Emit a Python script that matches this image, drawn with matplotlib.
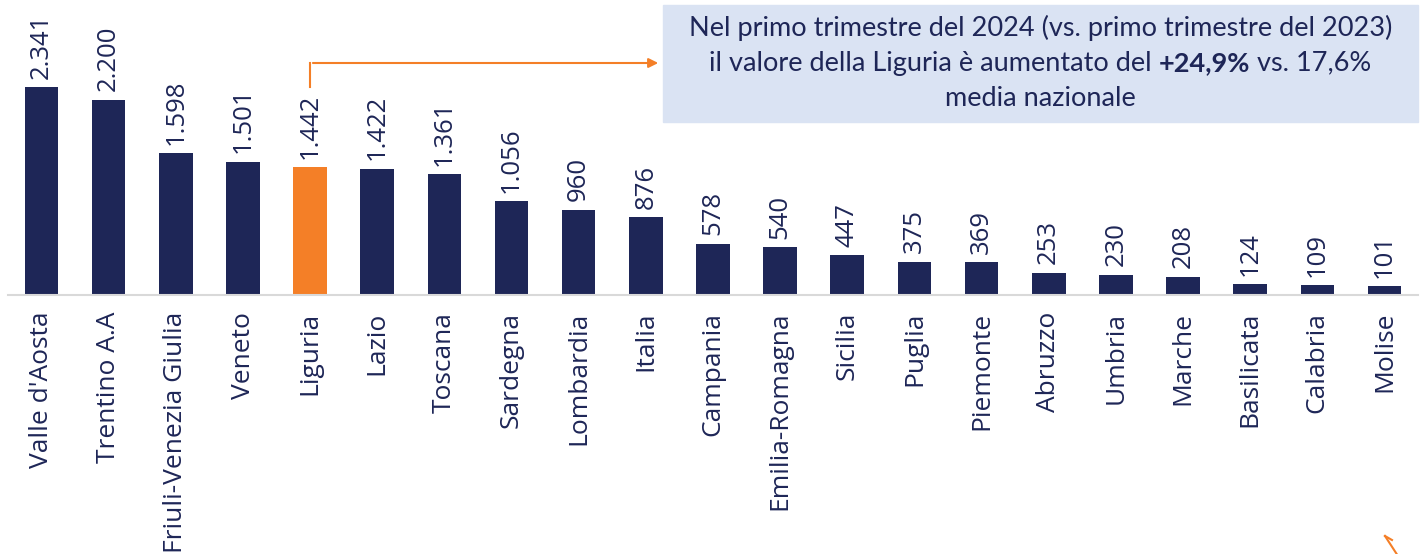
import matplotlib.pyplot as plt
from matplotlib.patches import Rectangle, FancyArrowPatch
from matplotlib.lines import Line2D

regioni = ["Valle d'Aosta", "Trentino A.A", "Friuli-Venezia Giulia", "Veneto", "Liguria",
           "Lazio", "Toscana", "Sardegna", "Lombardia", "Italia", "Campania",
           "Emilia-Romagna", "Sicilia", "Puglia", "Piemonte", "Abruzzo", "Umbria",
           "Marche", "Basilicata", "Calabria", "Molise"]
valori = [2341, 2200, 1598, 1501, 1442, 1422, 1361, 1056, 960, 876, 578,
          540, 447, 375, 369, 253, 230, 208, 124, 109, 101]
etichette = ["2.341", "2.200", "1.598", "1.501", "1.442", "1.422", "1.361", "1.056",
             "960", "876", "578", "540", "447", "375", "369", "253", "230", "208",
             "124", "109", "101"]
evidenza = "Liguria"

NAVY = "#1E2657"
ORANGE = "#F47F27"
BOX = "#DAE3F3"

plt.rcParams['font.family'] = ['Open Sans', 'DejaVu Sans']

W, H = 1427, 554
fig = plt.figure(figsize=(W / 100, H / 100), dpi=100)
ax = fig.add_axes([8 / W, 259 / H, 1410 / W, 295 / H])

colori = [ORANGE if r == evidenza else NAVY for r in regioni]
x = list(range(len(regioni)))
ax.bar(x, valori, width=0.5, color=colori)
ax.set_xlim(-0.5, len(regioni) - 0.5)
ax.set_ylim(0, 3320)

for xi, v, lab in zip(x, valori, etichette):
    ax.annotate(lab, (xi, v), xytext=(0, 6), textcoords="offset points",
                rotation=90, ha="center", va="bottom", fontsize=18.5, color=NAVY)

ax.set_xticks(x)
ax.set_xticklabels(regioni, rotation=90, fontsize=19, color=NAVY)
ax.tick_params(axis="x", length=0, pad=12)
ax.set_yticks([])
for s in ["top", "right", "left"]:
    ax.spines[s].set_visible(False)
ax.spines["bottom"].set_color("#D9D9D9")
ax.spines["bottom"].set_linewidth(1.5)
ax.patch.set_alpha(0)

# riquadro di commento
bx0, by0, bx1, by1 = 663, 5, 1418, 122
fig.patches.append(Rectangle((bx0 / W, 1 - by1 / H), (bx1 - bx0) / W, (by1 - by0) / H,
                             transform=fig.transFigure, color=BOX, zorder=0))
cx = (bx0 + bx1) / 2 / W
tfont = dict(family=['Lato', 'DejaVu Sans'], fontsize=19.5, color=NAVY)
fig.text(cx, 1 - 28 / H, "Nel primo trimestre del 2024 (vs. primo trimestre del 2023)",
         ha="center", va="center", **tfont)
fig.text(cx, 1 - 98 / H, "media nazionale", ha="center", va="center", **tfont)

# seconda riga con parte in grassetto
parti = [("il valore della Liguria è aumentato del ", "normal"),
         ("+24,9%", "bold"), (" vs. 17,6%", "normal")]
renderer = fig.canvas.get_renderer()
objs = []
for testo, peso in parti:
    t = fig.text(0, 1 - 63 / H, testo, ha="left", va="center", fontweight=peso, **tfont)
    objs.append(t)
larghezze = [t.get_window_extent(renderer).width for t in objs]
xpos = cx * W - sum(larghezze) / 2
for t, w in zip(objs, larghezze):
    t.set_x(xpos / W)
    xpos += w

# freccia da Liguria al riquadro
i = regioni.index(evidenza)
xl = ax.transData.transform((i, 0))[0] / W
fig.lines.append(Line2D([xl, xl], [1 - 87 / H, 1 - 63 / H], transform=fig.transFigure,
                        color=ORANGE, lw=1.5))
fig.patches.append(FancyArrowPatch((xl, 1 - 63 / H), ((bx0 - 2) / W, 1 - 63 / H),
                                   transform=fig.transFigure, arrowstyle="-|>",
                                   mutation_scale=14, color=ORANGE, lw=1.5))

# piccolo segno arancione in basso a destra
fig.lines.append(Line2D([1385 / W, 1398 / W], [1 - 536 / H, 1 - 556 / H],
                        transform=fig.transFigure, color=ORANGE, lw=1.5))
fig.lines.append(Line2D([1385 / W, 1392 / W], [1 - 536 / H, 1 - 540 / H],
                        transform=fig.transFigure, color=ORANGE, lw=1.5))

fig.savefig("out.png", dpi=100)
